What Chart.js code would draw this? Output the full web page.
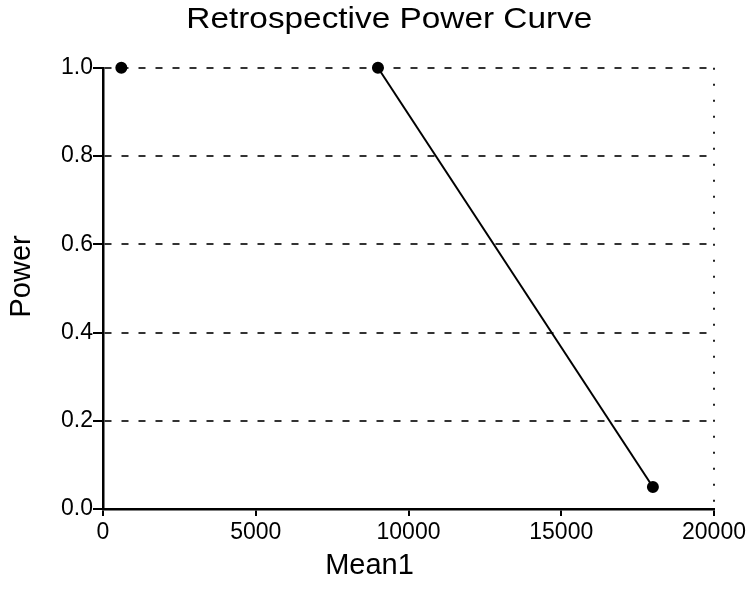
<!DOCTYPE html>
<html>
<head>
<meta charset="utf-8">
<script src="https://cdn.jsdelivr.net/npm/chart.js@4"></script>
<style>
  body { margin: 0; background: #fff; }
  #wrap { width: 751px; height: 593px; }
</style>
</head>
<body>
<div id="wrap"><canvas id="powerChart" width="751" height="593"></canvas></div>
<script>
const meanValues = [600, 9000, 18000];
const powerValues = [1.0, 1.0, 0.05];
const xTicks = [0, 5000, 10000, 15000, 20000];
const yTicks = [0.0, 0.2, 0.4, 0.6, 0.8, 1.0];

const FONT = "'Liberation Sans', Arial, sans-serif";
const TITLE_STRETCH = 1.15; // the scanned title is a bit wider than plain Arial

const points = meanValues.map((m, i) => ({ x: m, y: powerValues[i] }));

// wrap a draw method so it runs under an extra canvas transform
function wrapDraw(obj, name, transform) {
  if (!obj || obj['_wrapped_' + name]) return;
  const orig = obj[name];
  obj[name] = function () {
    const c = this.ctx;
    c.save();
    transform(c, this);
    orig.apply(this, arguments);
    c.restore();
  };
  obj['_wrapped_' + name] = true;
}

const shiftTexts = {
  id: 'shiftTexts',
  beforeDraw: chart => {
    wrapDraw(chart.titleBlock, 'draw', (c, tb) => {
      const cx = (tb.left + tb.right) / 2 + 38;
      c.translate(cx, 0);
      c.scale(TITLE_STRETCH, 1);
      c.translate(-cx + 38 / TITLE_STRETCH, 0);
    });
    wrapDraw(chart.scales.x, 'drawTitle', c => c.translate(-39, 0));
    wrapDraw(chart.scales.y, 'drawTitle', c => c.translate(0, -12));
  }
};

const ctx = document.getElementById('powerChart').getContext('2d');
const powerChart = new Chart(ctx, {
  type: 'scatter',
  data: {
    datasets: [{
      label: 'Power',
      data: points,
      showLine: true,
      clip: false,
      borderColor: '#000',
      borderWidth: 2,
      backgroundColor: '#000',
      pointRadius: 5,
      pointHoverRadius: 5,
      // no segment between the first two points
      segment: {
        borderColor: c => c.p0DataIndex === 0 ? 'rgba(0,0,0,0)' : '#000'
      }
    }]
  },
  options: {
    responsive: false,
    animation: false,
    layout: { padding: { top: 0, right: 37, left: 0, bottom: 0 } },
    plugins: {
      legend: { display: false },
      tooltip: { enabled: false },
      title: {
        display: true,
        text: 'Retrospective Power Curve',
        color: '#000',
        font: { family: FONT, size: 29, weight: 'normal' },
        padding: { top: 3, bottom: 30 }
      }
    },
    scales: {
      x: {
        type: 'linear',
        min: 0,
        max: 20000,
        afterBuildTicks: s => { s.ticks = xTicks.map(v => ({ value: v })); },
        afterFit: s => { s.height = 84; },
        border: { display: true, color: '#000', width: 2.5, dash: [2, 14] },
        grid: {
          drawOnChartArea: true,
          drawTicks: true,
          tickLength: 7,
          tickColor: '#000',
          tickWidth: 2,
          lineWidth: 2,
          // only the right edge gets a dotted line
          color: c => c.tick && c.tick.value === 20000 ? '#222' : 'rgba(0,0,0,0)'
        },
        ticks: {
          color: '#000',
          padding: 3,
          maxRotation: 0,
          font: { family: FONT, size: 23 },
          callback: v => String(v)
        },
        title: {
          display: true,
          text: 'Mean1',
          color: '#000',
          font: { family: FONT, size: 29 },
          padding: { top: 4, bottom: 10 }
        }
      },
      y: {
        type: 'linear',
        min: 0,
        max: 1,
        afterBuildTicks: s => { s.ticks = yTicks.map(v => ({ value: v })); },
        afterFit: s => { s.width = 103; },
        border: { display: true, color: '#000', width: 2.5, dash: [7, 10] },
        grid: {
          drawOnChartArea: true,
          drawTicks: true,
          tickLength: 10,
          tickColor: '#000',
          tickWidth: 2,
          lineWidth: 2,
          color: c => c.tick && c.tick.value > 0 ? '#333' : 'rgba(0,0,0,0)'
        },
        ticks: {
          color: '#000',
          padding: 0,
          font: { family: FONT, size: 23 },
          callback: v => v.toFixed(1)
        },
        title: {
          display: true,
          text: 'Power',
          color: '#000',
          font: { family: FONT, size: 29 },
          padding: { top: 5, bottom: 4 }
        }
      }
    }
  },
  plugins: [shiftTexts]
});
</script>
</body>
</html>
